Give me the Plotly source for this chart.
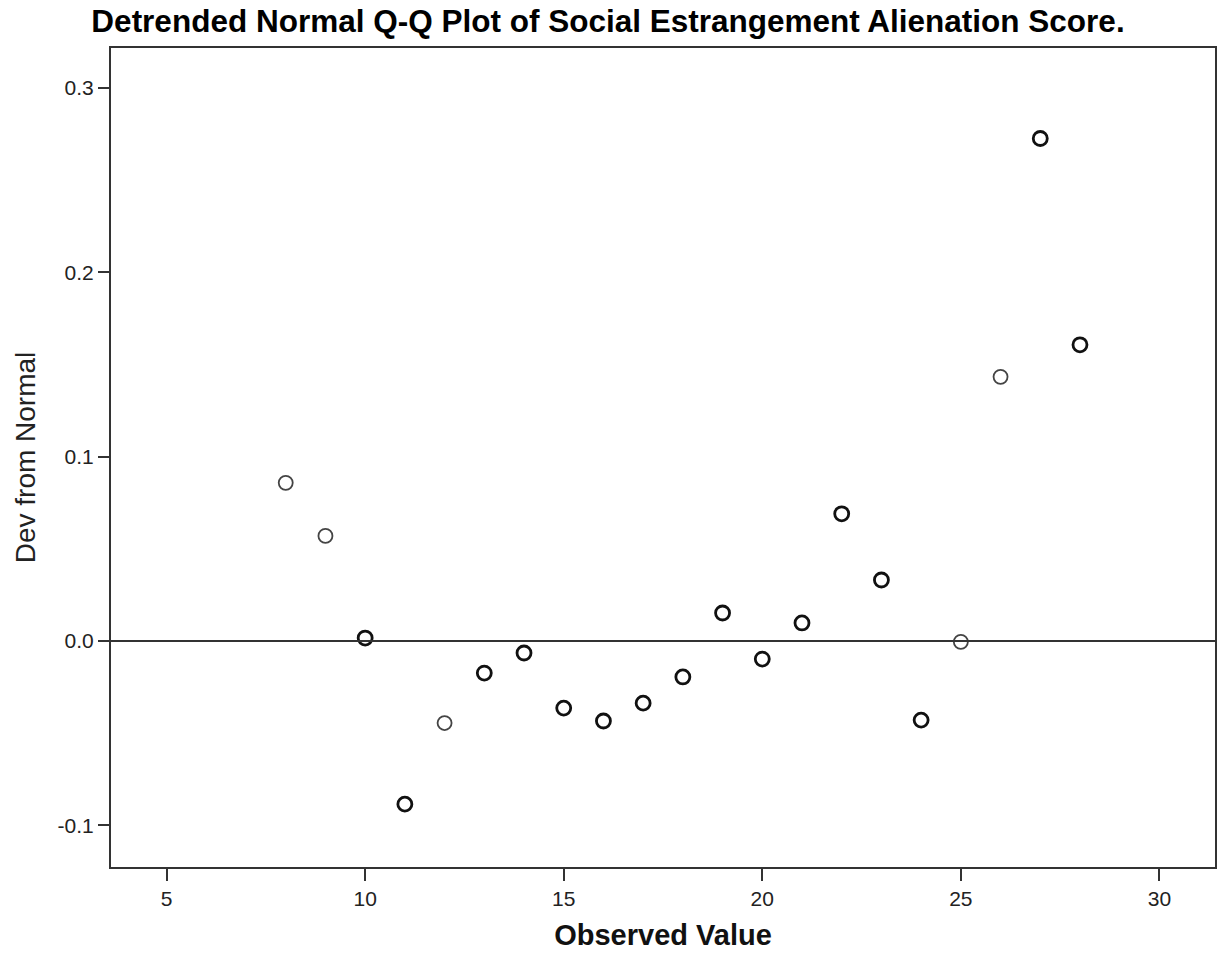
import plotly.graph_objects as go

# Observed scores and their deviation from the expected normal quantile
observed = [8, 9, 10, 11, 12, 13, 14, 15, 16, 17, 18, 19, 20, 21, 22, 23, 24, 25, 26, 27, 28]
deviation = [0.0858, 0.057, 0.0016, -0.0885, -0.0445, -0.0174, -0.0065, -0.0364,
             -0.0434, -0.0337, -0.0195, 0.0152, -0.0098, 0.0098, 0.069, 0.0331,
             -0.0429, -0.0005, 0.1433, 0.2726, 0.1607]
# Outline weight of each marker (overlapping cases render heavier)
heavy = [0, 0, 1, 1, 0, 1, 1, 1, 1, 1, 1, 1, 1, 1, 1, 1, 1, 0, 0, 1, 1]

x_ticks = [5, 10, 15, 20, 25, 30]
y_ticks = [-0.1, 0.0, 0.1, 0.2, 0.3]
y_tick_text = ["-0.1", "0.0", "0.1", "0.2", "0.3"]

fig = go.Figure()
fig.add_trace(go.Scatter(
    x=observed, y=deviation, mode="markers",
    marker=dict(
        symbol="circle-open", size=14,
        color=["#111111" if h else "#444444" for h in heavy],
        line=dict(width=[2.8 if h else 1.8 for h in heavy]),
    ),
    showlegend=False,
))

fig.add_hline(y=0, line=dict(color="#333333", width=2))

fig.update_layout(
    width=1225, height=955,
    margin=dict(l=111, r=8, t=48, b=88),
    paper_bgcolor="white", plot_bgcolor="white",
    font=dict(family="Liberation Sans, Arial, sans-serif", color="#222222"),
    title=dict(
        text="<b>Detrended Normal Q-Q Plot of Social Estrangement Alienation Score.</b>",
        x=608 / 1225, xanchor="center", y=1 - 21 / 955, yanchor="middle",
        font=dict(size=31.5, color="#000000"),
    ),
)
fig.update_xaxes(
    range=[3.6, 31.4], tickvals=x_ticks, ticks="outside", ticklen=12,
    tickwidth=2, tickcolor="#333333", tickfont=dict(size=21),
    showgrid=False, zeroline=False, showline=True, mirror=True,
    linecolor="#333333", linewidth=2,
    title=dict(text="<b>Observed Value</b>", font=dict(size=29, color="#111111"), standoff=15),
)
fig.update_yaxes(
    range=[-0.1226, 0.3217], tickvals=y_ticks, ticktext=y_tick_text, ticks="outside",
    ticklen=11, tickwidth=2, tickcolor="#333333", tickfont=dict(size=21),
    showgrid=False, zeroline=False, showline=True, mirror=True,
    linecolor="#333333", linewidth=2,
    title=dict(text="Dev from Normal", font=dict(size=28, color="#222222"), standoff=14),
)

fig.write_html("out.html")
